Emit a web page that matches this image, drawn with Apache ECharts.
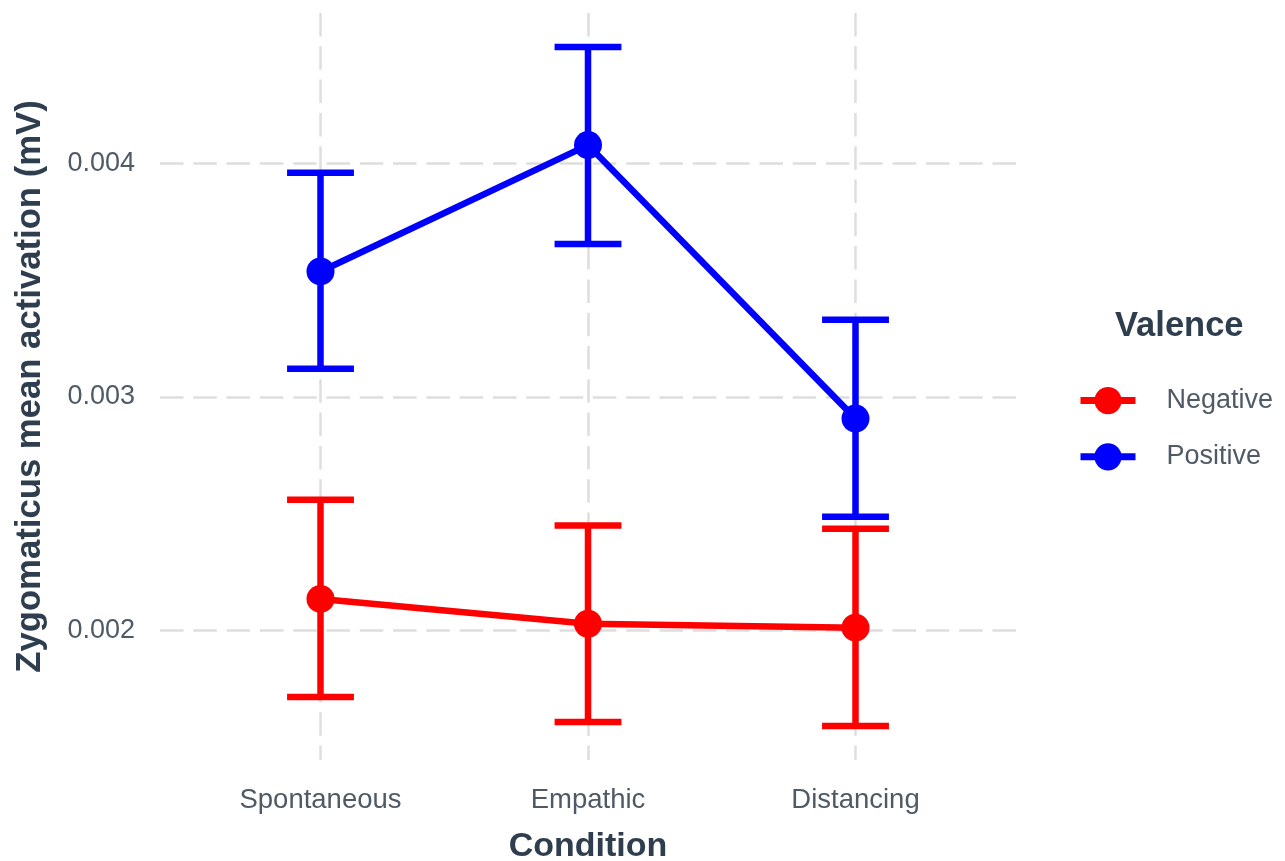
<!DOCTYPE html>
<html>
<head>
<meta charset="utf-8">
<script src="https://cdn.jsdelivr.net/npm/echarts@6/dist/echarts.min.js"></script>
<style>
html,body{margin:0;padding:0;background:#fff;}
#chart{width:1285px;height:861px;}
</style>
</head>
<body>
<div id="chart"></div>
<script>
// ---- data ----
const categories = ['Spontaneous', 'Empathic', 'Distancing'];
const valences = ['Negative', 'Positive'];
const negMean = [0.002135, 0.002029, 0.002012];
const negLow  = [0.001715, 0.001608, 0.001591];
const negHigh = [0.002560, 0.002450, 0.002436];
const posMean = [0.003537, 0.004078, 0.002907];
const posLow  = [0.003120, 0.003655, 0.002487];
const posHigh = [0.003960, 0.004498, 0.003330];
const yTicks = [0.002, 0.003, 0.004];

// ---- style ----
const FONT = 'Liberation Sans';
const LABEL_COLOR = '#4f5a66';
const TITLE_COLOR = '#2f3e4e';
const GRID_COLOR = '#dedede';
const colors = { Negative: '#ff0000', Positive: '#0000ff' };

const allLow = Math.min(...negLow, ...posLow);
const allHigh = Math.max(...negHigh, ...posHigh);
const span = allHigh - allLow;
const yMin = allLow - span * 0.05;
const yMax = allHigh + span * 0.05;

const xs = categories.map((c, i) => i + 1);

function lineData(mean) { return xs.map((x, i) => [x, mean[i]]); }
function errData(low, high) { return xs.map((x, i) => [x, low[i], high[i]]); }

function errRender(color) {
  return function (params, api) {
    const x = api.value(0), lo = api.value(1), hi = api.value(2);
    const pLo = api.coord([x, lo]);
    const pHi = api.coord([x, hi]);
    const capL = api.coord([x - 0.125, lo])[0];
    const capR = api.coord([x + 0.125, lo])[0];
    const st = { stroke: color, lineWidth: 6.5 };
    return {
      type: 'group',
      children: [
        { type: 'line', shape: { x1: pLo[0], y1: pLo[1], x2: pHi[0], y2: pHi[1] }, style: st },
        { type: 'line', shape: { x1: capL, y1: pLo[1], x2: capR, y2: pLo[1] }, style: st },
        { type: 'line', shape: { x1: capL, y1: pHi[1], x2: capR, y2: pHi[1] }, style: st }
      ]
    };
  };
}

const series = [
  { name: 'Negative err', type: 'custom', renderItem: errRender(colors.Negative), data: errData(negLow, negHigh), z: 2 },
  { name: 'Positive err', type: 'custom', renderItem: errRender(colors.Positive), data: errData(posLow, posHigh), z: 2 },
  { name: 'Negative', type: 'line', data: lineData(negMean), symbol: 'circle', symbolSize: 28,
    lineStyle: { color: colors.Negative, width: 6.5 }, itemStyle: { color: colors.Negative }, z: 3 },
  { name: 'Positive', type: 'line', data: lineData(posMean), symbol: 'circle', symbolSize: 28,
    lineStyle: { color: colors.Positive, width: 6.5 }, itemStyle: { color: colors.Positive }, z: 3 }
];

const chart = echarts.init(document.getElementById('chart'), null, { renderer: 'canvas' });
chart.setOption({
  animation: false,
  backgroundColor: '#ffffff',
  textStyle: { fontFamily: FONT },
  title: {
    text: 'Valence', left: 1110, top: 304,
    textStyle: { fontFamily: FONT, fontSize: 34.5, fontWeight: 'bold', color: TITLE_COLOR }
  },
  legend: {
    data: valences, orient: 'vertical', left: 1072, top: 382,
    itemWidth: 55, itemHeight: 34, itemGap: 29,
    lineStyle: { width: 7 },
    textStyle: { fontFamily: FONT, fontSize: 27, color: LABEL_COLOR, padding: [0, 0, 0, 26] }
  },
  grid: { left: 160, right: 269, top: 13, bottom: 101, containLabel: false, outerBoundsMode: 'none' },
  xAxis: {
    type: 'value', min: 0.4, max: 3.6,
    name: 'Condition', nameLocation: 'middle', nameGap: 70,
    nameTextStyle: { fontFamily: FONT, fontSize: 34, fontWeight: 'bold', color: TITLE_COLOR },
    axisLine: { show: false }, axisTick: { show: false, customValues: xs },
    axisLabel: { customValues: xs, margin: 26, fontFamily: FONT, fontSize: 27.5, color: LABEL_COLOR,
      formatter: v => categories[Math.round(v) - 1] || '' },
    splitLine: { show: true, lineStyle: { color: GRID_COLOR, width: 2.5, type: [23.5, 9.8] } }
  },
  yAxis: {
    type: 'value', min: yMin, max: yMax,
    name: 'Zygomaticus mean activation (mV)', nameLocation: 'middle', nameGap: 112,
    nameTextStyle: { fontFamily: FONT, fontSize: 34.7, fontWeight: 'bold', color: TITLE_COLOR },
    axisLine: { show: false }, axisTick: { show: false, customValues: yTicks },
    axisLabel: { customValues: yTicks, margin: 25, fontFamily: FONT, fontSize: 27, color: LABEL_COLOR,
      formatter: v => v.toFixed(3) },
    splitLine: { show: true, lineStyle: { color: GRID_COLOR, width: 2.5, type: [23.5, 9.8] } }
  },
  series: series
});
</script>
</body>
</html>
